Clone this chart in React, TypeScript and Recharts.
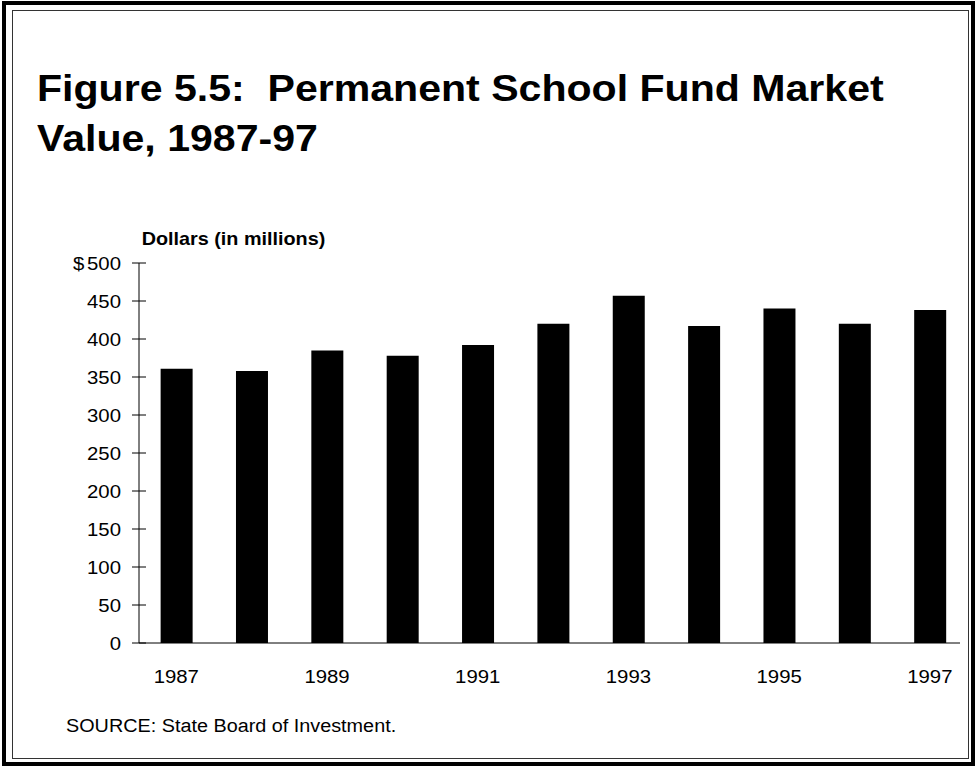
import { BarChart, Bar, XAxis, YAxis } from "recharts";

const years = [1987, 1988, 1989, 1990, 1991, 1992, 1993, 1994, 1995, 1996, 1997];
const marketValue = [361, 358, 385, 378, 392, 420, 457, 417, 440, 420, 438];
const yTicks = [0, 50, 100, 150, 200, 250, 300, 350, 400, 450, 500];
const xTicks = [1987, 1989, 1991, 1993, 1995, 1997];

const data = years.map((year, i) => ({ year, value: marketValue[i] }));

const FONT = '"Liberation Sans", Arial, Helvetica, sans-serif';
const STRETCH = 1.1;

function YTick(props: any) {
  const { x, y, payload } = props;
  return (
    <g>
      <line x1={x - 7} x2={x + 7} y1={y} y2={y} stroke="#000" strokeWidth={1} />
      <g transform={`translate(${x - 18},${y}) scale(${STRETCH},1)`}>
        <text x={0} y={0} dy="0.36em" textAnchor="end" fontSize={18.5} fontFamily={FONT} fill="#000">
          {payload.value}
        </text>
      </g>
      {payload.value === 500 && (
        <g transform={`translate(${x - 66},${y}) scale(${STRETCH},1)`}>
          <text x={0} y={0} dy="0.36em" textAnchor="start" fontSize={18.5} fontFamily={FONT} fill="#000">
            $
          </text>
        </g>
      )}
    </g>
  );
}

function XTick(props: any) {
  const { x, y, payload } = props;
  return (
    <g transform={`translate(${x},${y + 40}) scale(${STRETCH},1)`}>
      <text x={0} y={0} textAnchor="middle" fontSize={18.5} fontFamily={FONT} fill="#000">
        {payload.value}
      </text>
    </g>
  );
}

export default function App() {
  return (
    <div style={{ position: "fixed", left: 0, top: 0, width: 976, height: 767, background: "#fff", fontFamily: FONT }}>
      <div style={{ position: "absolute", left: 2, top: 1, width: 973, height: 765, border: "4px solid #000", boxSizing: "border-box" }} />
      <div style={{ position: "absolute", left: 12, top: 10, width: 957, height: 749, border: "1.5px solid #333", boxSizing: "border-box" }} />

      <div style={{ position: "absolute", left: 37, top: 64, fontSize: 37, fontWeight: "bold", lineHeight: "50px", whiteSpace: "pre", transform: `scaleX(${1.11})`, transformOrigin: "left top" }}>
        {"Figure 5.5:  Permanent School Fund Market\nValue, 1987-97"}
      </div>

      <div style={{ position: "absolute", left: 0, top: 0 }}>
        <BarChart width={976} height={767} data={data} margin={{ top: 263, right: 16, bottom: 94, left: 39 }}>
          <text x={141.7} y={245} fontSize={18} fontWeight="bold" fontFamily={FONT} fill="#000" transform={`translate(141.7,0) scale(${STRETCH},1) translate(-141.7,0)`}>
            Dollars (in millions)
          </text>
          <YAxis
            type="number"
            domain={[0, 500]}
            ticks={yTicks}
            width={100}
            interval={0}
            tickLine={false}
            tickSize={0}
            tickMargin={0}
            axisLine={{ stroke: "#000", strokeWidth: 1 }}
            tick={<YTick />}
          />
          <XAxis
            dataKey="year"
            type="number"
            domain={[1986.505, 1997.4]}
            ticks={xTicks}
            interval={0}
            height={30}
            tickLine={false}
            tickSize={0}
            tickMargin={0}
            axisLine={{ stroke: "#000", strokeWidth: 1 }}
            tick={<XTick />}
          />
          <Bar dataKey="value" fill="#000" barSize={32} isAnimationActive={false} />
        </BarChart>
      </div>

      <div style={{ position: "absolute", left: 66, top: 716, fontSize: 18, lineHeight: "20px", whiteSpace: "pre", transform: `scaleX(${STRETCH})`, transformOrigin: "left top" }}>
        SOURCE: State Board of Investment.
      </div>
    </div>
  );
}
